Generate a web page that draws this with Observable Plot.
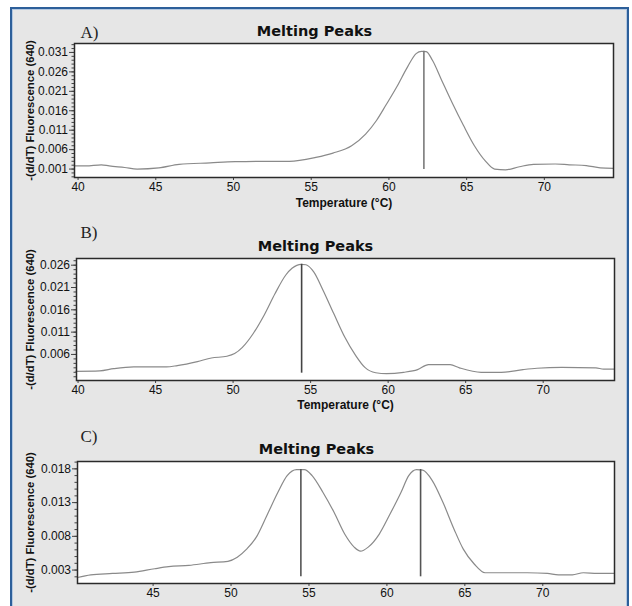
<!DOCTYPE html>
<html><head><meta charset="utf-8">
<script src="https://cdn.jsdelivr.net/npm/d3@7"></script>
<script src="https://cdn.jsdelivr.net/npm/@observablehq/plot@0.6"></script>
<style>
html,body{margin:0;padding:0;background:#fff;width:632px;height:606px;overflow:hidden;}
#page{position:relative;width:632px;height:606px;overflow:hidden;}
#bg{position:absolute;left:10px;top:7px;width:615px;height:640px;background:#e6e6e6;border:2px solid #2d5f9a;box-shadow:inset 0 0 0 1px #b4c8e0;}
.panel{position:absolute;left:0;}
</style></head><body><div id="page"><div id="bg"></div></div>
<script>
// ---- Data ----
const tempA = [39.8, 40.5, 41.5, 42.0, 43.0, 43.8, 45.2, 46.5, 48.5, 50.1, 52.2, 53.6, 55.3, 56.4, 57.6, 58.5, 59.2, 59.8, 60.5, 61.2, 61.75, 62.1, 62.4, 62.8, 63.4, 64.1, 64.8, 65.5, 66.2, 66.8, 67.5, 68.4, 69.3, 70.7, 71.6, 72.7, 73.6, 74.45];
const fluorA = [0.0018, 0.0018, 0.0021, 0.0018, 0.0014, 0.0010, 0.0013, 0.0022, 0.0026, 0.0029, 0.0030, 0.0030, 0.0040, 0.0051, 0.0070, 0.0100, 0.0135, 0.0174, 0.0221, 0.0273, 0.0307, 0.0313, 0.0312, 0.0290, 0.0238, 0.0178, 0.0122, 0.0070, 0.0031, 0.0010, 0.0008, 0.0016, 0.0022, 0.0023, 0.0021, 0.0019, 0.0013, 0.0012];

const tempB = [39.85, 41.4, 42.3, 43.6, 45.7, 46.4, 47.7, 48.6, 49.6, 50.1, 50.6, 51.3, 52.0, 52.7, 53.4, 53.8, 54.4, 54.7, 55.2, 55.8, 56.5, 57.2, 57.9, 58.5, 59.2, 59.9, 61.0, 61.9, 62.6, 64.0, 64.6, 66.0, 67.3, 68.7, 69.6, 71.2, 73.4, 73.9, 74.6];
const fluorB = [0.0022, 0.0023, 0.0028, 0.0032, 0.0032, 0.0035, 0.0044, 0.0052, 0.0056, 0.0062, 0.0076, 0.0107, 0.0148, 0.0196, 0.0238, 0.0253, 0.0262, 0.0261, 0.0245, 0.0204, 0.0151, 0.0099, 0.0058, 0.0031, 0.0019, 0.0017, 0.0020, 0.0026, 0.0037, 0.0037, 0.0030, 0.0020, 0.0020, 0.0026, 0.0029, 0.0031, 0.0030, 0.0027, 0.0027];

const tempC = [40.15, 41.0, 42.4, 43.8, 45.1, 46.0, 47.3, 48.7, 49.8, 50.4, 51.0, 51.6, 52.3, 53.0, 53.6, 54.2, 54.7, 55.2, 55.9, 56.6, 57.3, 57.9, 58.3, 58.8, 59.5, 60.2, 60.9, 61.4, 61.9, 62.3, 62.9, 63.6, 64.3, 64.9, 65.6, 66.3, 67.6, 69.0, 70.3, 71.0, 71.9, 72.6, 73.5, 74.6];
const fluorC = [0.0019, 0.0023, 0.0025, 0.0027, 0.0032, 0.0035, 0.0037, 0.0041, 0.0043, 0.0049, 0.0061, 0.0078, 0.0111, 0.0145, 0.0170, 0.0179, 0.0179, 0.0170, 0.0145, 0.0116, 0.0083, 0.0064, 0.0058, 0.0064, 0.0083, 0.0113, 0.0145, 0.0170, 0.0179, 0.0178, 0.0163, 0.0130, 0.0091, 0.0061, 0.0039, 0.0026, 0.0026, 0.0026, 0.0025, 0.0023, 0.0023, 0.0026, 0.0025, 0.0025];

// melting peak markers: temperature, low end, high end
const peakTempA = [62.25]; const peakLowA = [0.0009]; const peakHighA = [0.0313];
const peakTempB = [54.42]; const peakLowB = [0.0018]; const peakHighB = [0.0262];
const peakTempC = [54.48, 62.16]; const peakLowC = [0.0020, 0.0020]; const peakHighC = [0.0179, 0.0179];

// tick labels
const xTicksAB = [40, 45, 50, 55, 60, 65, 70];
const xTicksC = [45, 50, 55, 60, 65, 70];
const yTicksA = [0.001, 0.006, 0.011, 0.016, 0.021, 0.026, 0.031];
const yTicksB = [0.006, 0.011, 0.016, 0.021, 0.026];
const yTicksC = [0.003, 0.008, 0.013, 0.018];

const panelLabels = ["A)", "B)", "C)"];
const chartTitle = "Melting Peaks";
const yLabel = "-(d/dT) Fluorescence (640)";
const xLabel = "Temperature (°C)";

function makePanel(cfg) {
  const series = cfg.temps.map((t, i) => ({t, f: cfg.vals[i]}));
  const peaks = cfg.peakT.map((t, i) => ({t, lo: cfg.peakLo[i], hi: cfg.peakHi[i]}));
  const minor = d3.range(Math.ceil(cfg.yDomain[0] * 1000), Math.floor(cfg.yDomain[1] * 1000) + 1).map(d => d / 1000);
  const frameCenter = (cfg.left + (632 - cfg.right)) / 2;
  const marks = [
      Plot.frame({fill: "white", stroke: null}),
      Plot.axisY({ticks: minor, tickSize: 2.5, tickFormat: () => "", label: null, stroke: "#444"}),
      Plot.axisY({ticks: cfg.yTicks, tickSize: 5, tickPadding: 1.5, tickFormat: d3.format(".3f"), label: null, fontSize: 12, stroke: "#444"}),
      Plot.axisX({ticks: cfg.xTicks, tickSize: 3, tickPadding: 2, tickFormat: d => d, label: null, fontSize: 12, stroke: "#444"}),
      Plot.line(series, {x: "t", y: "f", stroke: "#8a8a8a", strokeWidth: 1.2, curve: "monotone-x"}),
      Plot.ruleX(peaks, {x: "t", y1: "lo", y2: "hi", stroke: cfg.ruleColor, strokeWidth: 1.6}),
      Plot.frame({stroke: "#2a2a2a", strokeWidth: 1.5}),
      Plot.text([chartTitle], {text: d => d, frameAnchor: "top", textAnchor: "middle", dx: cfg.titleX - frameCenter, dy: cfg.titleDy, fontWeight: "bold", fontSize: 14.5, fontFamily: "DejaVu Sans, sans-serif", fill: "#111"}),
      Plot.text([cfg.panel], {text: d => d, frameAnchor: "top-left", textAnchor: "start", dx: 80 - cfg.left, dy: cfg.panelDy, fontSize: 17, fontFamily: "Liberation Serif, serif", fill: "#222"}),
      Plot.text([yLabel], {text: d => d, frameAnchor: "left", textAnchor: "middle", rotate: -90, dx: 30 - cfg.left, fontWeight: "bold", fontSize: 11.3, fill: "#111"})
  ];
  if (cfg.showXLabel) marks.push(Plot.text([xLabel], {text: d => d, frameAnchor: "bottom", textAnchor: "middle", dy: cfg.xLabelDy, fontWeight: "bold", fontSize: 12, fill: "#111"}));
  const p = Plot.plot({
    width: 632,
    height: cfg.height,
    marginLeft: cfg.left,
    marginRight: cfg.right,
    marginTop: cfg.top,
    marginBottom: cfg.bottom,
    style: {background: "transparent", overflow: "visible", fontFamily: "Liberation Sans, Arial, sans-serif", fontSize: "12px", color: "#111"},
    x: {domain: cfg.xDomain},
    y: {domain: cfg.yDomain},
    marks
  });
  p.classList.add("panel");
  p.style.top = cfg.svgTop + "px";
  p.style.position = "absolute";
  document.getElementById("page").appendChild(p);
}

makePanel({panel: panelLabels[0], temps: tempA, vals: fluorA, peakT: peakTempA, peakLo: peakLowA, peakHi: peakHighA,
  xTicks: xTicksAB, yTicks: yTicksA, xDomain: [39.77, 74.45], yDomain: [-0.00117, 0.0333],
  svgTop: 0, height: 215, top: 43, bottom: 38, left: 74, right: 19, titleX: 314, titleDy: -18, panelDy: -18, xLabelDy: 29, ruleColor: "#7a7a7a", showXLabel: true});
makePanel({panel: panelLabels[1], temps: tempB, vals: fluorB, peakT: peakTempB, peakLo: peakLowB, peakHi: peakHighB,
  xTicks: xTicksAB, yTicks: yTicksB, xDomain: [39.9, 74.6], yDomain: [0.00016, 0.0275],
  svgTop: 215, height: 200, top: 43, bottom: 35, left: 76, right: 18, titleX: 315, titleDy: -18, panelDy: -33, xLabelDy: 28, ruleColor: "#444", showXLabel: true});
makePanel({panel: panelLabels[2], temps: tempC, vals: fluorC, peakT: peakTempC, peakLo: peakLowC, peakHi: peakHighC,
  xTicks: xTicksC, yTicks: yTicksC, xDomain: [40.15, 74.6], yDomain: [0.00101, 0.01909],
  svgTop: 415, height: 191, top: 46, bottom: 23, left: 77, right: 18, titleX: 316, titleDy: -18, panelDy: -32, xLabelDy: 28, ruleColor: "#555", showXLabel: false});
</script>
</body></html>
